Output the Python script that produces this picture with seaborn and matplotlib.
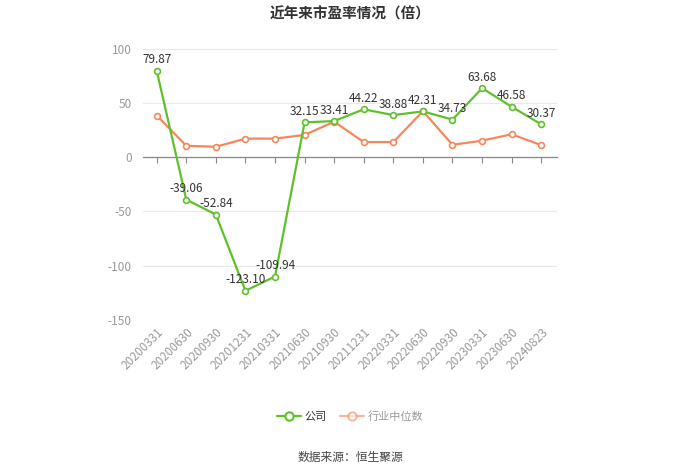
import matplotlib
matplotlib.use("Agg")
import matplotlib.pyplot as plt
import seaborn as sns
from matplotlib.lines import Line2D

dates = ["20200331", "20200630", "20200930", "20201231", "20210331", "20210630",
         "20210930", "20211231", "20220331", "20220630", "20220930", "20230331",
         "20230630", "20240823"]
company = [79.87, -39.06, -52.84, -123.10, -109.94, 32.15, 33.41, 44.22, 38.88,
           42.31, 34.73, 63.68, 46.58, 30.37]
industry = [38.5, 10.6, 9.7, 17.2, 17.2, 20.6, 32.8, 14.0, 14.0, 42.5, 11.5, 15.3, 21.2, 11.2]

sns.set_theme(style="white")
plt.rcParams['font.family'] = ['Noto Sans CJK SC', 'DejaVu Sans']

green = "#5ec12c"
orange = "#f4885c"

fig = plt.figure(figsize=(7, 4.74), dpi=100)
ax = fig.add_axes([0.204, 0.325, 0.592, 0.572])

xs = list(range(len(dates)))
sns.lineplot(x=xs, y=industry, ax=ax, color=orange, linestyle="-", marker="o",
             markersize=4.2, markerfacecolor="white", markeredgecolor=orange,
             markeredgewidth=1.2, linewidth=1.6, zorder=3)
sns.lineplot(x=xs, y=company, ax=ax, color=green, linestyle="-", marker="o",
             markersize=4.2, markerfacecolor="white", markeredgecolor=green,
             markeredgewidth=1.2, linewidth=1.6, zorder=4)

for i, v in enumerate(company):
    ax.text(i, v + 4, f"{v:.2f}", ha="center", va="bottom", fontsize=8.5, color="#333333", zorder=5)

for s in ["left", "right", "top"]:
    ax.spines[s].set_visible(False)
ax.spines["bottom"].set_position(("data", 0))
ax.spines["bottom"].set_color("#888888")
ax.spines["bottom"].set_linewidth(0.9)

ax.set_xlim(-0.47, 13.54)
ax.set_ylim(-150, 100)
ax.set_yticks([-150, -100, -50, 0, 50, 100])
ax.set_yticklabels(["-150", "-100", "-50", "0", "50", "100"])
ax.set_xticks(xs)
ax.set_xticklabels(dates)
ax.tick_params(axis="x", colors="#888888", labelcolor="#999999", labelsize=8.5, length=4,
               width=0.8, pad=117, bottom=True, labelrotation=45)
ax.tick_params(axis="y", colors="#999999", labelsize=8.5, length=0, pad=8)
plt.setp(ax.get_xticklabels(), rotation=45, ha="right", rotation_mode="anchor")
ax.grid(axis="y", color="#e8e8e8", linewidth=0.8)
ax.set_axisbelow(True)
ax.set_xlabel("")
ax.set_ylabel("")

fig.text(0.5, 0.972, "近年来市盈率情况（倍）", ha="center", va="center", fontsize=10.5,
         fontweight="bold", color="#333333")

handles = [Line2D([0], [0], color=green, marker="o", markerfacecolor="white", markersize=6,
                  markeredgewidth=1.5, linewidth=1.6),
           Line2D([0], [0], color=orange, marker="o", markerfacecolor="white", markersize=6,
                  markeredgewidth=1.5, linewidth=1.6, alpha=0.6)]
leg = fig.legend(handles, ["公司", "行业中位数"], loc="center", bbox_to_anchor=(0.5, 0.121),
                 ncol=2, frameon=False, fontsize=8, handlelength=2.2, columnspacing=1.2,
                 handletextpad=0.3)
leg.get_texts()[1].set_color("#999999")
leg.get_texts()[0].set_color("#333333")

fig.text(0.5, 0.034, "数据来源：恒生聚源", ha="center", va="center", fontsize=8.5, color="#444444")

fig.savefig("out.png", dpi=100)
